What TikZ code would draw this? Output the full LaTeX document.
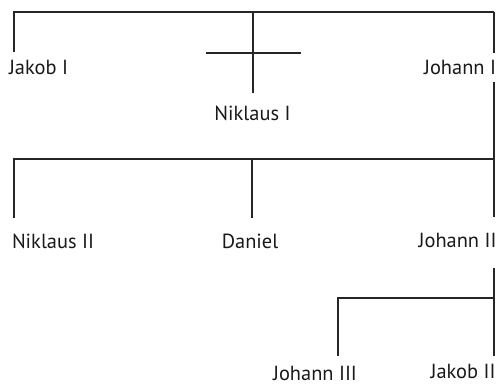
\documentclass[tikz,border=0pt]{standalone}
\usepackage{fontspec}
\setmainfont{PT Sans}
\begin{document}
\begin{tikzpicture}[x=1bp,y=-1bp,
  link/.style={line width=1.3bp, draw=black!85, line join=miter},
  person/.style={inner sep=0pt, outer sep=0pt, text height=14bp, text depth=0pt,
    font=\fontsize{20.5}{24}\selectfont, text=black!90}]
\useasboundingbox (0,0) rectangle (499,385);

% names, placed by their baselines
\node[person, anchor=base west] (jakob1)   at (9,74)      {Jakob I};
\node[person, anchor=base]      (niklaus1) at (252.5,120) {Niklaus I};
\node[person, anchor=base east] (johann1)  at (496,74)    {Johann I};
\node[person, anchor=base west] (niklaus2) at (12,248)    {Niklaus II};
\node[person, anchor=base]      (daniel)   at (250,248)   {Daniel};
\node[person, anchor=base east] (johann2)  at (496.5,247) {Johann II};
\node[person, anchor=base]      (johann3)  at (315,380.5) {Johann III};
\node[person, anchor=base east] (jakob2)   at (495.5,378) {Jakob II};

% junction points of the tree
\coordinate (a1) at (14,12);
\coordinate (a2) at (494,12);
\coordinate (nk) at (253,12);
\coordinate (x1) at (206,53);
\coordinate (x2) at (301,53);
\coordinate (b1) at (14,159);
\coordinate (b2) at (494,159);
\coordinate (bd) at (252,159);
\coordinate (c1) at (338,298);
\coordinate (c2) at (494,298);

% first generation
\draw[link, shorten >=8bp] (a2) -- (a1) -- (a1 |- jakob1.north);
\draw[link, shorten >=13bp] (nk) -- (nk |- niklaus1.north);
\draw[link] (x1) -- (x2);
\draw[link, shorten >=7bp] (a2) -- (a2 |- johann1.north);

% second generation
\draw[link, shorten <=8bp, shorten >=16bp] (a2 |- johann1.south) -- (a2 |- johann2.north);
\draw[link, shorten >=16bp] (b2) -- (b1) -- (b1 |- niklaus2.north);
\draw[link, shorten >=16bp] (bd) -- (bd |- daniel.north);

% third generation
\draw[link, shorten <=21bp, shorten >=8bp] (a2 |- johann2.south) -- (a2 |- jakob2.north);
\draw[link, shorten >=10.5bp] (c2) -- (c1) -- (c1 |- johann3.north);
\end{tikzpicture}
\end{document}
